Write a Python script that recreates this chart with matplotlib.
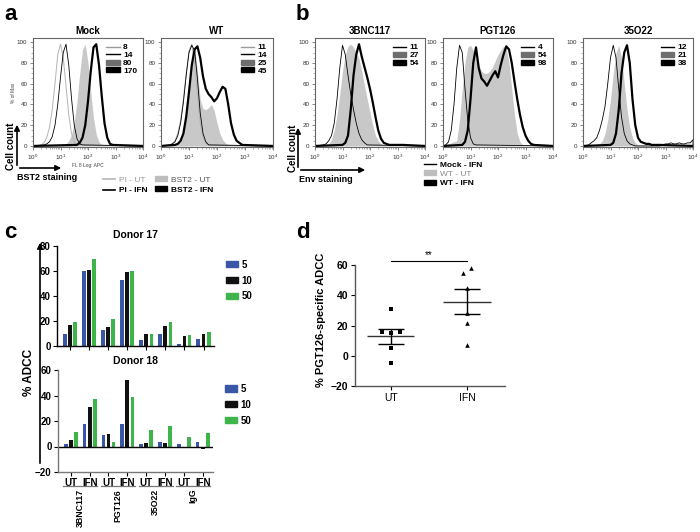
import numpy as np
import matplotlib
matplotlib.use('Agg')
import matplotlib.pyplot as plt
from matplotlib.patches import Patch, FancyArrowPatch
from matplotlib.lines import Line2D
from matplotlib.ticker import MultipleLocator, LogLocator, NullFormatter

plt.rcParams['font.family'] = ['Liberation Sans', 'DejaVu Sans']
plt.rcParams['mathtext.fontset'] = 'custom'
plt.rcParams['mathtext.rm'] = 'Liberation Sans'
plt.rcParams['mathtext.bf'] = 'Liberation Sans:bold'

# ---- flow histograms: (first decade, % of max every 0.1 decade) ----
MOCK_PI_UT = (0.3, [1, 3, 8, 18, 35, 60, 88, 98, 85, 58, 30, 12, 4, 1])
MOCK_PI_IFN = (0.4, [1, 2, 4, 9, 20, 40, 66, 90, 98, 78, 46, 20, 7, 2, 1])
MOCK_BST2_UT = (1.1, [1, 2, 5, 11, 23, 43, 70, 93, 98, 80, 52, 27, 11, 4, 1])
MOCK_BST2_IFN = (1.6, [1, 3, 8, 20, 43, 72, 95, 98, 78, 48, 22, 8, 2, 1])

WT_PI_UT = (0.3, [1, 2, 5, 12, 25, 45, 70, 92, 98, 80, 50, 22, 8, 3, 1])
WT_PI_IFN = (0.3, [1, 2, 4, 10, 22, 42, 68, 90, 97, 92, 65, 32, 12, 4, 1])
WT_BST2_UT = (0.6, [2, 6, 15, 32, 60, 85, 95, 72, 45, 36, 35, 37, 40, 34, 22, 12, 6, 3, 1])
WT_BST2_IFN = (0.5, [1, 2, 5, 12, 28, 52, 78, 93, 96, 85, 67, 55, 50, 47, 43, 46, 52, 57,
                     55, 40, 22, 11, 5, 3, 1])

B3BNC_MOCK = (0.3, [1, 2, 5, 10, 22, 45, 75, 97, 88, 68, 50, 35, 22, 12, 6, 3, 1])
B3BNC_WT_UT = (0.5, [2, 6, 15, 30, 50, 72, 88, 96, 98, 95, 90, 84, 72, 58, 45, 32, 20, 10, 5, 2, 1])
B3BNC_WT_IFN = (1.0, [1, 3, 10, 35, 68, 88, 98, 86, 76, 66, 55, 42, 28, 15, 7, 3, 2, 1, 1, 1, 1, 1, 1])

PGT_MOCK = (0.1, [1, 4, 15, 40, 75, 97, 90, 55, 25, 8, 2, 1])
PGT_WT_UT = (0.5, [5, 25, 55, 80, 95, 97, 92, 85, 78, 72, 70, 70, 72, 76, 82, 88, 92, 96, 94,
                   80, 55, 30, 12, 4, 1])
PGT_WT_IFN = (0.7, [1, 4, 15, 45, 80, 95, 75, 65, 62, 58, 63, 68, 72, 66, 78, 88, 96, 93, 80,
                    62, 45, 30, 18, 10, 5, 2, 1])

O22_MOCK = (0.2, [1, 3, 5, 8, 15, 25, 38, 60, 85, 97, 85, 55, 28, 12, 5, 2, 1,
                  0, 0, 0, 0, 0, 0, 0, 0, 0, 0, 1, 2, 2, 3, 2, 2, 3, 2, 2, 3, 3, 6])
O22_WT_UT = (0.6, [2, 5, 12, 25, 45, 70, 90, 97, 85, 60, 35, 18, 8, 3, 1])
O22_WT_IFN = (1.0, [1, 3, 12, 35, 70, 90, 97, 80, 45, 20, 8, 4, 3, 2, 2, 1, 1, 1, 1])

MOCK_LABELS = ['8', '14', '80', '170']
WT_LABELS = ['11', '14', '25', '45']
B3BNC_LABELS = ['11', '27', '54']
PGT_LABELS = ['4', '54', '98']
O22_LABELS = ['12', '21', '38']

# ---- panel c: % ADCC ----
GROUPS = ['3BNC117', 'PGT126', '35O22', 'IgG']
CONDS = ['UT', 'IFN']
DOSES = ['5', '10', '50']
D17_5 = [10, 60, 13, 53, 4.5, 10, 2, 6]
D17_10 = [17, 61, 15, 59, 9.5, 16, 8, 9.5]
D17_50 = [19, 70, 22, 60, 9.5, 19, 9, 11.5]
D18_5 = [1.8, 18, 9.2, 17.7, 1.8, 3.8, 2.3, 3.3]
D18_10 = [5, 31, 10, 52, 3, 3, -0.5, -2]
D18_50 = [11, 37, 3.6, 39, 12.8, 16, 7.4, 10.3]

# ---- panel d ----
D_CATS = ['UT', 'IFN']
UT_VALS = [31, 16, 16, 15, 5, -5]
IFN_VALS = [58, 55, 45, 28, 22, 7]

W, H = 700, 532
fig = plt.figure(figsize=(7, 5.32), dpi=100)


def box(x0, y0, x1, y1):
    return [x0 / W, 1 - y1 / H, (x1 - x0) / W, (y1 - y0) / H]


def fxy(x, y):
    return (x / W, 1 - y / H)


def curve_xy(curve):
    start, vals = curve
    logs = start + 0.1 * np.arange(len(vals))
    logs = np.concatenate([[0.0], logs, [4.0]])
    ys = np.concatenate([[0.0], vals, [0.0]])
    return 10 ** logs, ys


LINE_STYLE = {'light': dict(color='#b4b4b4', lw=0.7),
              'thin': dict(color='black', lw=0.6),
              'thick': dict(color='black', lw=1.6)}


def leg_handle(kind):
    if kind == 'light':
        return Line2D([], [], color='#9a9a9a', lw=1)
    if kind == 'thin':
        return Line2D([], [], color='black', lw=1)
    if kind == 'fill':
        return Patch(color='#6e6e6e')
    return Patch(color='black')


def draw_hist(rect, curves, kinds, labels, title, small_labels=False):
    ax = fig.add_axes(rect)
    for c, k in zip(curves, kinds):
        x, y = curve_xy(c)
        if k == 'fill':
            ax.fill_between(x, y, 0, color='#c8c8c8', lw=0)
    for c, k in zip(curves, kinds):
        x, y = curve_xy(c)
        if k != 'fill':
            ax.plot(x, y, **LINE_STYLE[k])
    ax.set_xscale('log')
    ax.set_xlim(1, 1e4)
    ax.set_ylim(-1, 104)
    ax.set_xticks([1, 10, 100, 1000, 10000])
    ax.set_xticklabels([r'$10^0$', r'$10^1$', r'$10^2$', r'$10^3$', r'$10^4$'])
    ax.xaxis.set_minor_locator(LogLocator(base=10, subs=np.arange(2, 10) * 1.0, numticks=20))
    ax.xaxis.set_minor_formatter(NullFormatter())
    ax.set_yticks([0, 20, 40, 60, 80, 100])
    ax.yaxis.set_minor_locator(MultipleLocator(5))
    ax.tick_params(labelsize=4.5, length=2.5, width=0.5, pad=1.5, color='#555', labelcolor='#333')
    ax.tick_params(which='minor', length=1.3, width=0.4, color='#777')
    for s in ax.spines.values():
        s.set_color('#666')
        s.set_linewidth(0.8)
    ax.set_title(title, fontsize=7, fontweight='bold', pad=3)
    leg = ax.legend([leg_handle(k) for k in kinds], labels, loc='upper right', frameon=False,
                    fontsize=6, handlelength=1.6, handleheight=0.55, labelspacing=0.05,
                    borderaxespad=0.3, handletextpad=0.4)
    for t in leg.get_texts():
        t.set_fontweight('bold')
    if small_labels:
        ax.set_ylabel('% of Max', fontsize=3.5, labelpad=1, color='#444')
        ax.set_xlabel('FL 8 Log: APC', fontsize=3.5, labelpad=0.5, color='#444')
    return ax


def arrow(p0, p1):
    fig.add_artist(FancyArrowPatch(fxy(*p0), fxy(*p1), transform=fig.transFigure,
                                   arrowstyle='-|>', mutation_scale=8, lw=1.2, color='black'))


# ---------------- panel a ----------------
fig.text(*fxy(4, 4), 'a', fontsize=16, fontweight='bold', va='top')
draw_hist(box(33, 38, 143, 147), [MOCK_PI_UT, MOCK_PI_IFN, MOCK_BST2_UT, MOCK_BST2_IFN],
          ['light', 'thin', 'fill', 'thick'], MOCK_LABELS, 'Mock', small_labels=True)
draw_hist(box(161, 38, 273, 147), [WT_PI_UT, WT_PI_IFN, WT_BST2_UT, WT_BST2_IFN],
          ['light', 'thin', 'fill', 'thick'], WT_LABELS, 'WT')

arrow((17, 168), (17, 122))
arrow((17, 168), (64, 168))
fig.text(*fxy(11, 146), 'Cell count', rotation=90, fontsize=7, fontweight='bold',
         ha='center', va='center')
fig.text(*fxy(17, 178), 'BST2 staining', fontsize=6.5, fontweight='bold', va='center')

leg_a1 = fig.legend([Line2D([], [], color='#b4b4b4', lw=1.2), Line2D([], [], color='black', lw=1.2)],
                    ['PI - UT', 'PI - IFN'], loc='upper left', bbox_to_anchor=fxy(100, 173),
                    frameon=False, fontsize=6, handlelength=1.4, labelspacing=0.3,
                    handletextpad=0.5, borderaxespad=0)
leg_a2 = fig.legend([Patch(color='#bdbdbd'), Patch(color='black')],
                    ['BST2 - UT', 'BST2 - IFN'], loc='upper left', bbox_to_anchor=fxy(152, 173),
                    frameon=False, fontsize=6, handlelength=1.4, handleheight=0.55,
                    labelspacing=0.3, handletextpad=0.5, borderaxespad=0)
for leg, cols in ((leg_a1, ['#9a9a9a', 'black']), (leg_a2, ['#555555', 'black'])):
    for t, c in zip(leg.get_texts(), cols):
        t.set_color(c)
    leg.get_texts()[1].set_fontweight('bold')

# ---------------- panel b ----------------
fig.text(*fxy(296, 4), 'b', fontsize=16, fontweight='bold', va='top')
b_kinds = ['thin', 'fill', 'thick']
draw_hist(box(315, 38, 425, 147), [B3BNC_MOCK, B3BNC_WT_UT, B3BNC_WT_IFN], b_kinds,
          B3BNC_LABELS, '3BNC117')
draw_hist(box(443, 38, 553, 147), [PGT_MOCK, PGT_WT_UT, PGT_WT_IFN], b_kinds,
          PGT_LABELS, 'PGT126')
draw_hist(box(583, 38, 693, 147), [O22_MOCK, O22_WT_UT, O22_WT_IFN], b_kinds,
          O22_LABELS, '35O22')

arrow((298, 170), (298, 125))
arrow((298, 170), (368, 170))
fig.text(*fxy(293, 148), 'Cell count', rotation=90, fontsize=7, fontweight='bold',
         ha='center', va='center')
fig.text(*fxy(299, 180), 'Env staining', fontsize=6.5, fontweight='bold', va='center')

leg_b = fig.legend([Line2D([], [], color='black', lw=1), Patch(color='#bdbdbd'), Patch(color='black')],
                   ['Mock - IFN', 'WT - UT', 'WT - IFN'], loc='upper left',
                   bbox_to_anchor=fxy(421, 158), frameon=False, fontsize=6, handlelength=1.4,
                   handleheight=0.55, labelspacing=0.2, handletextpad=0.5, borderaxespad=0)
for t, c, w in zip(leg_b.get_texts(), ['black', '#888888', 'black'], ['bold', 'normal', 'bold']):
    t.set_color(c)
    t.set_fontweight(w)

# ---------------- panel c ----------------
BAR_COLORS = ['#3a56a6', '#111111', '#3db54b']
xpos = np.arange(len(GROUPS) * len(CONDS))


def draw_bars(ax, series):
    for k, (vals, c) in enumerate(zip(series, BAR_COLORS)):
        ax.bar(xpos + (k - 1) * 0.27, vals, width=0.2, color=c, lw=0)
    ax.set_xlim(-0.68, 7.55)
    ax.spines[['top', 'right']].set_visible(False)
    ax.set_xticks(xpos)
    ax.tick_params(labelsize=7, length=3, width=0.8, pad=1.5)
    for t in ax.get_yticklabels():
        t.set_fontweight('bold')
    leg = ax.legend([Patch(color=c) for c in BAR_COLORS], DOSES, loc='upper left',
                    bbox_to_anchor=(1.02, 0.95), frameon=False, fontsize=7,
                    handlelength=1.2, handleheight=0.6, labelspacing=0.6, handletextpad=0.4)
    for t in leg.get_texts():
        t.set_fontweight('bold')


fig.text(*fxy(4, 222), 'c', fontsize=16, fontweight='bold', va='top')
ax_c1 = fig.add_axes(box(57, 246, 214, 346))
ax_c1.set_ylim(0, 80)
ax_c1.set_yticks([0, 20, 40, 60, 80])
draw_bars(ax_c1, [D17_5, D17_10, D17_50])
ax_c1.set_xticklabels([])
ax_c1.set_title('Donor 17', fontsize=7.5, fontweight='bold', pad=6)
for s in ax_c1.spines.values():
    s.set_linewidth(1)

ax_c2 = fig.add_axes(box(58, 370, 213, 472))
ax_c2.set_ylim(-20, 60)
ax_c2.set_yticks([-20, 0, 20, 40, 60])
draw_bars(ax_c2, [D18_5, D18_10, D18_50])
ax_c2.axhline(0, color='black', lw=1)
ax_c2.set_xticklabels(CONDS * len(GROUPS))
for t in ax_c2.get_xticklabels() + ax_c2.get_yticklabels():
    t.set_fontweight('bold')
for s in ax_c2.spines.values():
    s.set_color('#777777')
    s.set_linewidth(1)
ax_c2.set_title('Donor 18', fontsize=7.5, fontweight='bold', pad=4)
trans = ax_c2.get_xaxis_transform()
for g, name in enumerate(GROUPS):
    ax_c2.plot([2 * g - 0.4, 2 * g + 1.4], [-0.14, -0.14], transform=trans, clip_on=False,
               color='#777777', lw=0.9)
    ax_c2.text(2 * g + 0.5, -0.165, name, transform=trans, rotation=90, ha='center', va='top',
               fontsize=6.3, fontweight='bold')

arrow((40, 466), (40, 240))
fig.text(*fxy(29, 372), '% ADCC', rotation=90, fontsize=8.5, fontweight='bold',
         ha='center', va='center')

# ---------------- panel d ----------------
fig.text(*fxy(296, 222), 'd', fontsize=16, fontweight='bold', va='top')
ax_d = fig.add_axes(box(355, 253, 505, 386))
groups_d = [UT_VALS, IFN_VALS]
markers = ['s', '^']
jitter = [[0, -0.12, 0.12, 0, 0, 0], [0.05, -0.05, 0, 0, 0, 0]]
for i, vals in enumerate(groups_d):
    vals = np.array(vals, dtype=float)
    ax_d.scatter(i + np.array(jitter[i]), vals, marker=markers[i], s=11, color='black', lw=0,
                 zorder=3)
    m = vals.mean()
    se = vals.std(ddof=1) / np.sqrt(len(vals))
    ax_d.hlines(m, i - 0.31, i + 0.31, color='#333333', lw=1)
    ax_d.vlines(i, m - se, m + se, color='black', lw=1)
    ax_d.hlines([m - se, m + se], i - 0.17, i + 0.17, color='black', lw=1)
ax_d.plot([0, 1], [63, 63], color='black', lw=0.8, clip_on=False)
ax_d.text(0.5, 63.5, '**', ha='center', va='bottom', fontsize=7)
ax_d.set_xlim(-0.47, 1.5)
ax_d.set_ylim(-20, 68)
ax_d.set_yticks([-20, 0, 20, 40, 60])
ax_d.set_xticks([0, 1])
ax_d.set_xticklabels(D_CATS)
ax_d.spines[['top', 'right']].set_visible(False)
ax_d.spines['left'].set_bounds(-20, 60)
for s in ax_d.spines.values():
    s.set_color('#555555')
    s.set_linewidth(1)
ax_d.tick_params(labelsize=7.5, length=3, width=0.8, pad=2)
for t in ax_d.get_yticklabels():
    t.set_fontweight('bold')
ax_d.set_ylabel('% PGT126-specific ADCC', fontsize=8, fontweight='bold', labelpad=3)

fig.savefig('out.png', dpi=100)
